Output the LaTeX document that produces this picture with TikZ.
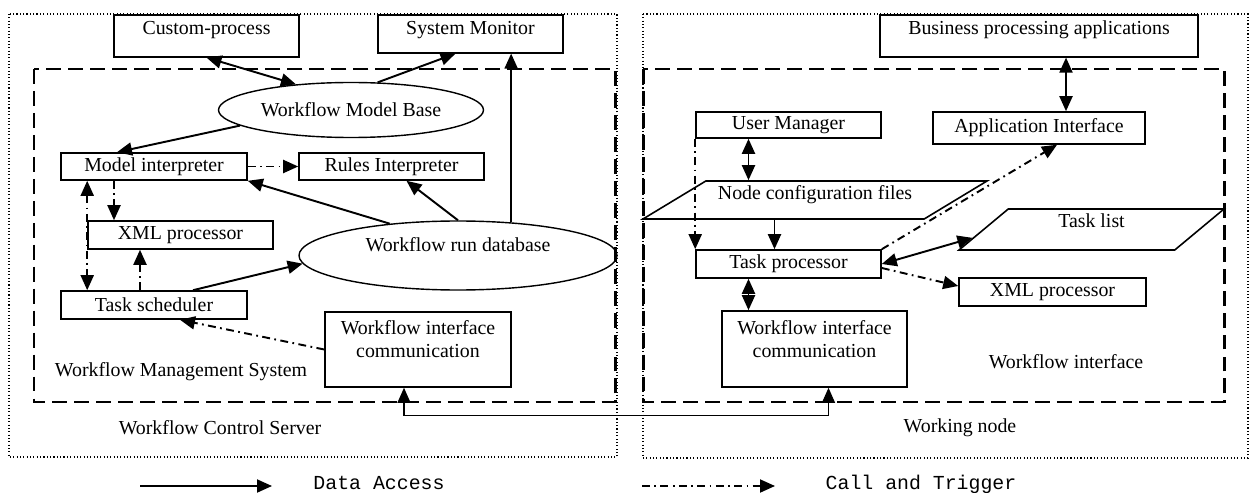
\documentclass[tikz,border=0pt]{standalone}
\usepackage{fontspec}
\setmainfont{Liberation Serif}
\setmonofont{Liberation Mono}
\usepackage{tikz}
\usetikzlibrary{arrows.meta, positioning, shapes.geometric}

\begin{document}
\begin{tikzpicture}[
  x=0.2mm, y=-0.2mm,
  >={Triangle[length=3mm, width=2.6mm]},
  font=\fontsize{11.3}{13}\selectfont,
  proc/.style={draw, line width=0.9pt, inner sep=1pt, minimum width=37mm, minimum height=5.6mm, align=center},
  topbox/.style={proc, anchor=north, inner ysep=0pt, text height=3.9mm},
  store/.style={draw, ellipse, line width=0.8pt, inner sep=0pt},
  files/.style={draw, trapezium, trapezium stretches body, line width=0.9pt, inner sep=0pt},
  flow/.style={line width=1.1pt},
  calls/.style={line width=1.1pt, dash pattern=on 4.5pt off 2.5pt on 1pt off 2.5pt},
  area/.style={line width=1.7pt, dash pattern=on 8.5pt off 4pt},
  site/.style={line width=1pt, dash pattern=on 0.6pt off 1.3pt},
  tag/.style={inner sep=0pt},
  legend/.style={tag, anchor=base, font=\ttfamily\fontsize{11.3}{13}\selectfont}
]
\useasboundingbox (0,0) rectangle (1250,493);

\draw[site] (9,14) rectangle (617,457);
\draw[site] (643,14) rectangle (1248,458);
\draw[area] (34,69) rectangle (615,402);
\draw[area] (643,69) rectangle (1224,402);

\node[topbox, text depth=4.5mm] (cproc) at (206.5,14) {Custom-process};
\node[topbox, text depth=3.7mm] (sysmon) at (470.5,14) {System Monitor};
\node[store, minimum width=53mm, minimum height=11mm] (wmb) at (351,110) {Workflow Model Base};
\node[proc, minimum width=37.2mm, minimum height=5.4mm] (mi) at (154,166.5) {Model interpreter};
\node[proc, minimum height=5.4mm] (rules) at (391.5,166.5) {Rules Interpreter};
\node[proc] (xml1) at (180.5,235) {XML processor};
\node[store, minimum width=63.6mm, minimum height=13.8mm, text depth=4.2mm] (wrd) at (458,255.5) {Workflow run database};
\node[proc, minimum width=37.2mm] (ts) at (154,305) {Task scheduler};
\node[proc, minimum width=37.2mm, minimum height=15mm] (wic1) at (418,349.5) {Workflow interface\\communication\\[-1.8mm]\strut};
\node[tag] (wms) at (181,372) {Workflow Management System};
\node[tag] (wcs) at (220,428) {Workflow Control Server};

\node[topbox, minimum width=63.6mm, text depth=4.5mm] (bpa) at (1039,14) {Business processing applications};
\node[proc, minimum height=5.2mm] (um) at (788.5,125) {User Manager};
\node[proc, minimum width=42.4mm, minimum height=6.4mm] (ai) at (1039,128) {Application Interface};
\node[files, trapezium left angle=24, trapezium right angle=156, minimum width=68.8mm, minimum height=7.6mm, text depth=2.8mm] (ncf) at (815,200) {Node configuration files};
\node[files, trapezium left angle=32, trapezium right angle=148, minimum width=53mm, minimum height=8.2mm, text depth=3.4mm] (tl) at (1091.5,229.5) {Task list};
\node[proc] (tp) at (788.5,264) {Task processor};
\node[proc, minimum width=37.4mm] (xml2) at (1052.5,292) {XML processor};
\node[proc, minimum height=15.2mm] (wic2) at (814.5,349) {Workflow interface\\communication\\[-1.8mm]\strut};
\node[tag] (wi) at (1066,362) {Workflow interface};
\node[tag] (wn) at (960,428) {Working node};

\draw[flow, <->] (cproc.south) -- (wmb.155);
\draw[flow, ->] (wmb.46) -- ([shift={(-15,0)}]sysmon.south);
\draw[flow, ->] (wmb.188) -- ([shift={(-37,0)}]mi.north);
\draw[calls, ->] (mi) -- (rules);
\draw[flow, ->] (wrd.155) -- (mi.south east);
\draw[flow, ->] (wrd.north) -- ([shift={(15,0)}]rules.south);
\draw[flow, ->] (wrd.32) -- (wrd.32 |- sysmon.south);
\draw[calls, <->] (mi.south -| xml1.west) -- (ts.north -| xml1.west);
\draw[calls, ->] ([shift={(-40,0)}]mi.south) -- ([shift={(-40,0)}]mi.south |- xml1.north);
\draw[calls, ->] ([shift={(-14,0)}]ts.north) -- ([shift={(-14,0)}]ts.north |- xml1.south);
\draw[flow, ->] ([shift={(39,0)}]ts.north) -- (wrd.183);
\draw[calls, ->] (wic1.west) -- ([shift={(26,0)}]ts.south);
\draw[line width=0.6pt, <->] ([shift={(-14,0)}]wic1.south) -- ++(0,28) -| ([shift={(14,0)}]wic2.south);

\draw[flow, <->] ([shift={(27,0)}]ai.north) -- ([shift={(27,0)}]ai.north |- bpa.south);
\draw[flow, <->] ([shift={(-40,0)}]um.south) -- ([shift={(-40,0)}]um.south |- ncf.north);
\draw[calls, ->] (um.south west) -- (tp.north west);
\draw[flow, ->] ([shift={(-14,0)}]tp.north |- ncf.south) -- ([shift={(-14,0)}]tp.north);
\draw[flow, <->] ([shift={(-40,0)}]tp.south) -- ([shift={(-40,0)}]tp.south |- wic2.north);
\draw[calls, ->] (tp.north east) -- ([shift={(18,0)}]ai.south);
\draw[flow, <->] (tp.east) -- (tl.184);
\draw[calls, ->] ([shift={(0,4)}]tp.east) -- ([shift={(0,-6)}]xml2.west);

\coordinate (da1) at (140,486);
\coordinate (da2) at (272,486);
\node[legend] (datxt) at (379,489) {Data Access};
\draw[flow, ->] (da1) -- (da2);
\coordinate (ct1) at (642,486);
\coordinate (ct2) at (775,486);
\node[legend] (cttxt) at (921,489) {Call and Trigger};
\draw[calls, ->] (ct1) -- (ct2);
\end{tikzpicture}
\end{document}
